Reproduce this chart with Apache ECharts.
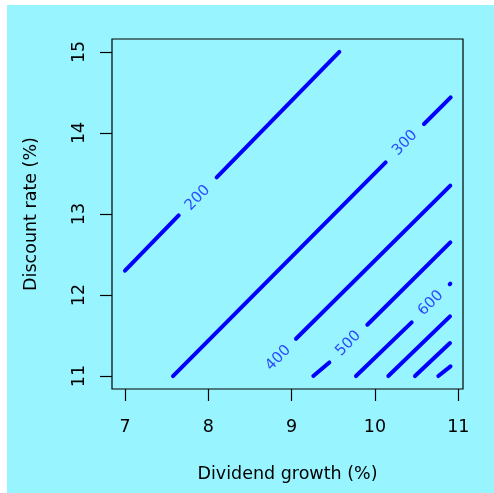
<!DOCTYPE html>
<html>
<head>
<meta charset="utf-8">
<script src="https://cdn.jsdelivr.net/npm/echarts@6/dist/echarts.min.js"></script>
<style>
html,body{margin:0;padding:0;background:#ffffff;}
#chart{width:494px;height:493px;}
</style>
</head>
<body>
<div id="chart"></div>
<script>
// ---- data ----
const xTicks = [7, 8, 9, 10, 11];
const yTicks = [11, 12, 13, 14, 15];
const xTitle = 'Dividend growth (%)';
const yTitle = 'Discount rate (%)';

// contour lines (null = gap where the label sits)
const c200 = [[7.00, 12.30], [7.644, 12.983], null, [8.10, 13.452], [9.572, 15.00]];
const c300 = [[7.576, 11.00], [10.128, 13.637], null, [10.588, 14.111], [10.908, 14.44]];
const c400 = [[9.052, 11.46], [10.904, 13.35]];
const c500 = [[9.26, 11.00], [9.452, 11.168], null, [9.908, 11.633], [10.904, 12.649]];
const c600 = [[9.772, 11.00], [10.44, 11.662], null, [10.897, 12.133], [10.904, 12.140]];
const c700 = [[10.16, 11.00], [10.90, 11.736]];
const c800 = [[10.48, 11.00], [10.90, 11.407]];
const c900 = [[10.76, 11.00], [10.906, 11.12]];
const contours = [c200, c300, c400, c500, c600, c700, c800, c900];

const labelText = ['200', '300', '400', '500', '600'];
const labelX = [7.872, 10.36, 8.84, 9.68, 10.67];
const labelY = [13.198, 13.877, 11.222, 11.401, 11.90];

// ---- build chart ----
const BG = '#98F5FF';
const LINE = '#0000FF';
const FONT = 'DejaVu Sans';

function segments(arr) {
  const out = [];
  let cur = [];
  arr.forEach(p => {
    if (p === null) { if (cur.length) out.push(cur); cur = []; }
    else cur.push(p);
  });
  if (cur.length) out.push(cur);
  return out;
}

const series = [];
contours.forEach(c => {
  segments(c).forEach(seg => {
    series.push({
      type: 'line',
      data: seg,
      showSymbol: false,
      symbol: 'none',
      silent: true,
      animation: false,
      lineStyle: { color: LINE, width: 4, cap: 'round', join: 'round' },
      z: 3
    });
  });
});

series.push({
  type: 'scatter',
  symbolSize: 0,
  silent: true,
  animation: false,
  data: labelText.map((t, i) => ({ value: [labelX[i], labelY[i]], name: t })),
  label: {
    show: true,
    position: 'inside',
    formatter: p => p.name,
    rotate: 45.5,
    color: '#1020ff',
    fontFamily: FONT,
    fontWeight: 'normal',
    fontSize: 15
  },
  z: 4
});

const axisTextStyle = { color: '#000', fontFamily: FONT, fontSize: 17.5 };

const option = {
  backgroundColor: BG,
  animation: false,
  graphic: [
    { type: 'rect', shape: { x: 0, y: 0, width: 7, height: 493 }, style: { fill: '#ffffff' }, silent: true },
    { type: 'rect', shape: { x: 0, y: 0, width: 494, height: 5 }, style: { fill: '#ffffff' }, silent: true }
  ],
  grid: {
    left: 112, right: 31, top: 39, bottom: 104,
    show: true, borderColor: '#000', borderWidth: 1.2, backgroundColor: 'transparent',
    containLabel: false
  },
  xAxis: {
    type: 'value',
    min: 6.844, max: 11.056,
    name: xTitle,
    nameLocation: 'middle',
    nameGap: 76,
    nameTextStyle: axisTextStyle,
    axisLine: { show: false },
    splitLine: { show: false },
    axisTick: { show: true, customValues: xTicks, length: 12, lineStyle: { color: '#000', width: 1.2 } },
    axisLabel: Object.assign({ customValues: xTicks, margin: 29, formatter: v => String(v) }, axisTextStyle)
  },
  yAxis: {
    type: 'value',
    min: 10.84, max: 15.16,
    name: yTitle,
    nameLocation: 'middle',
    nameGap: 72,
    nameRotate: 90,
    nameTextStyle: axisTextStyle,
    axisLine: { show: false },
    splitLine: { show: false },
    axisTick: { show: true, customValues: yTicks, length: 12, lineStyle: { color: '#000', width: 1.2 } },
    axisLabel: Object.assign({ customValues: yTicks, margin: 24, rotate: 90, formatter: v => String(v) }, axisTextStyle)
  },
  series: series
};

const chart = echarts.init(document.getElementById('chart'), null, { renderer: 'canvas' });
chart.setOption(option);
</script>
</body>
</html>
